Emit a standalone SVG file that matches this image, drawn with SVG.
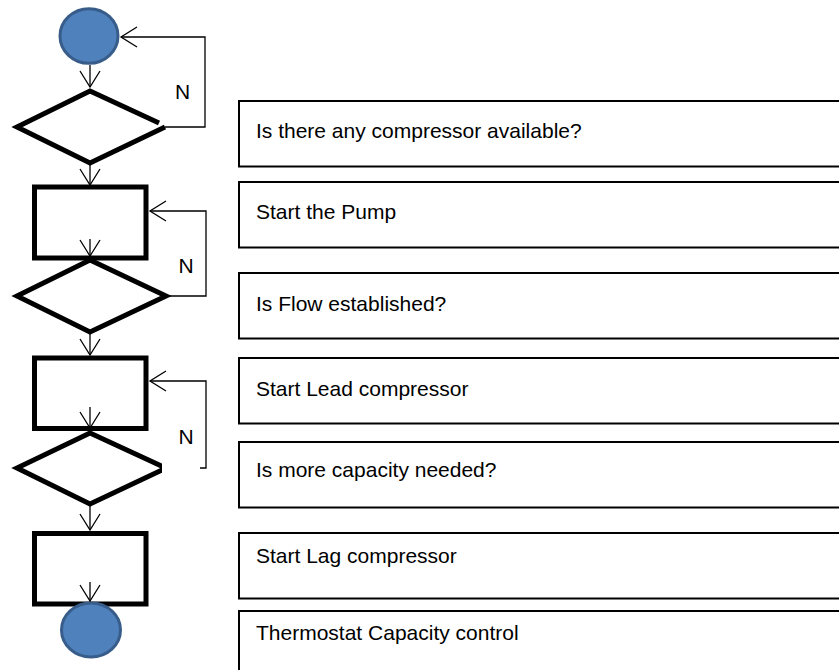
<svg xmlns="http://www.w3.org/2000/svg" width="839" height="670" viewBox="0 0 839 670">
  <style>
    .term { fill: #4F81BD; stroke: #385D8A; stroke-width: 3; }
    .shape { fill: #FFFFFF; stroke: #000000; stroke-width: 5; stroke-linejoin: miter; }
    .box { fill: #FFFFFF; stroke: #000000; stroke-width: 2; }
    .conn { fill: none; stroke: #000000; stroke-width: 1.3; }
    .lbl { font-family: "Liberation Sans", Arial, sans-serif; font-size: 21px; fill: #000000; }
  </style>
  <defs>
    <marker id="arr" markerUnits="userSpaceOnUse" markerWidth="20" markerHeight="24" viewBox="-18 -12 20 24" refX="0" refY="0" orient="auto" overflow="visible">
      <path d="M-16,-10 L0,0 L-16,10" fill="none" stroke="#000000" stroke-width="1.3"/>
    </marker>
    <clipPath id="clipD3">
      <rect x="0" y="420" width="162" height="100"/>
    </clipPath>
  </defs>

  <!-- Right-side description boxes -->
  <g id="box1"><rect class="box" x="239" y="101" width="620" height="65.5"/><text class="lbl" x="256" y="138">Is there any compressor available?</text></g>
  <g id="box2"><rect class="box" x="239" y="182" width="620" height="65.5"/><text class="lbl" x="256" y="219">Start the Pump</text></g>
  <g id="box3"><rect class="box" x="239" y="273" width="620" height="65.5"/><text class="lbl" x="256" y="311">Is Flow established?</text></g>
  <g id="box4"><rect class="box" x="239" y="358" width="620" height="65.5"/><text class="lbl" x="256" y="396">Start Lead compressor</text></g>
  <g id="box5"><rect class="box" x="239" y="442" width="620" height="65.5"/><text class="lbl" x="256" y="477">Is more capacity needed?</text></g>
  <g id="box6"><rect class="box" x="239" y="533" width="620" height="65.5"/><text class="lbl" x="256" y="563">Start Lag compressor</text></g>
  <g id="box7"><rect class="box" x="239" y="611" width="620" height="80"/><text class="lbl" x="256" y="640">Thermostat Capacity control</text></g>

  <!-- Flowchart nodes -->
  <g id="start"><ellipse class="term" cx="89" cy="36" rx="29" ry="27.3"/></g>
  <g id="dec1"><path class="shape" fill="none" d="M159,123 L90,91 L17,127 L90,163 L165,127"/></g>
  <g id="proc1"><rect class="shape" x="34.5" y="187" width="111.5" height="71"/></g>
  <g id="dec2"><polygon class="shape" points="90,260 166,296 90,332 17,296"/></g>
  <g id="proc2"><rect class="shape" x="34.5" y="358" width="111.5" height="70.5"/></g>
  <g id="dec3"><polygon class="shape" points="90,433 166,468 90,504 17,468" clip-path="url(#clipD3)"/></g>
  <g id="proc3"><rect class="shape" x="34.5" y="533.5" width="111.5" height="70.5"/></g>
  <g id="end"><ellipse class="term" cx="91" cy="630" rx="29.5" ry="27"/></g>

  <!-- Connectors -->
  <g id="connectors">
    <path class="conn" d="M90,65 L90,87" marker-end="url(#arr)"/>
    <path class="conn" d="M90,165 L90,185" marker-end="url(#arr)"/>
    <path class="conn" d="M90,239 L90,256" marker-end="url(#arr)"/>
    <path class="conn" d="M90,334 L90,355" marker-end="url(#arr)"/>
    <path class="conn" d="M90,407 L90,428" marker-end="url(#arr)"/>
    <path class="conn" d="M90,506 L90,530" marker-end="url(#arr)"/>
    <path class="conn" d="M90,582 L90,601" marker-end="url(#arr)"/>
    <path class="conn" d="M165,127 L205,127 L205,37 L121,37" marker-end="url(#arr)"/>
    <path class="conn" d="M168,296 L206,296 L206,211 L150,211" marker-end="url(#arr)"/>
    <path class="conn" d="M200,468 L206,468 L206,381 L150,381" marker-end="url(#arr)"/>
    <text class="lbl" x="175" y="99">N</text>
    <text class="lbl" x="178.5" y="273">N</text>
    <text class="lbl" x="178.5" y="444">N</text>
  </g>
</svg>
